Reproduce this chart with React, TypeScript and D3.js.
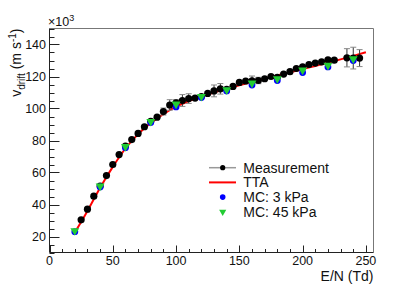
import React from 'react';
import * as d3 from 'd3';

// E/N (Td) and drift velocity (x10^3 m/s)
const measEN = [25, 30, 35, 40, 45, 50, 55, 60, 65, 70, 75, 80, 85, 90, 95, 100, 105, 110, 115, 120, 125, 130, 135, 140, 145, 150, 155, 160, 165, 170, 175, 180, 185, 190, 195, 200, 205, 210, 215, 220, 225, 235, 240, 245];
const measV = [30.4, 37.1, 45.2, 51.5, 58.1, 65, 71.2, 76.5, 80.6, 84.4, 88.6, 92, 94.6, 98.1, 102.2, 103.5, 105, 106.2, 106.5, 107.5, 109.4, 111, 112.3, 112, 113.8, 116.3, 117.2, 117.3, 117.5, 118.6, 120, 119.5, 121.5, 123, 125, 126, 127.5, 128.4, 129.2, 130.4, 130.2, 131.7, 131.5, 131.5];
const measErr = [0, 0, 0, 0, 0, 0, 0, 0, 0, 0, 0, 0, 0, 2.2, 3.3, 2, 3.7, 3, 0, 0, 0, 3.7, 3.3, 0, 0, 0, 0, 3, 2, 0, 0, 0, 0, 0, 0, 0, 0, 0, 0, 0, 0, 5.7, 6.8, 5.3];

const ttaEN = [20, 30, 40, 50, 60, 70, 80, 90, 100, 110, 120, 130, 140, 150, 160, 170, 180, 190, 200, 210, 220, 230, 240, 250];
const ttaV = [22.5, 36, 50.5, 63.5, 75, 84, 91, 96.5, 101.2, 104.6, 107.5, 110, 112.3, 114.5, 116.6, 118.7, 120.7, 122.7, 124.6, 126.6, 128.6, 130.7, 132.9, 135.2];

const mcEN = [20, 40, 60, 80, 100, 120, 140, 160, 180, 200, 220, 240];
const mc3kPa = [23, 51, 75.5, 91.2, 101, 106.8, 111, 114.7, 117.5, 122.5, 126, 130];
const mc45kPa = [23.6, 51.5, 76.2, 91.9, 102.7, 107.5, 111.7, 115.9, 118.6, 124, 127, 131];

const xMajor = [0, 50, 100, 150, 200, 250];
const yMajor = [20, 40, 60, 80, 100, 120, 140];

const legendItems = ['Measurement', 'TTA', 'MC: 3 kPa', 'MC: 45 kPa'];

const W = 415;
const H = 287;
const FONT = '"Liberation Sans", Arial, Helvetica, sans-serif';

export default function App() {
  const x = d3.scaleLinear().domain([0, 256]).range([49.5, 373.5]);
  const y = d3.scaleLinear().domain([10, 150]).range([252.5, 28.5]);
  const [x0, x1] = x.range();
  const [y0, y1] = y.range();

  const xMinor = d3.range(0, 257, 10).filter(v => v % 50 !== 0);
  const yMinor = d3.range(10, 151, 5).filter(v => v % 20 !== 0);

  const tta = d3.line<number>()
    .x((_, i) => x(ttaEN[i]))
    .y(d => y(d))
    .curve(d3.curveMonotoneX);

  const tri = d3.symbol().type(d3.symbolTriangle).size(34)();

  return (
    <svg width={W} height={H} style={{ position: 'absolute', left: 0, top: 0 }} fontFamily={FONT}>
      <rect width={W} height={H} fill="#fff" />

      {/* frame */}
      <line x1={x0} x2={x1} y1={y1} y2={y1} stroke="#777" />
      <line x1={x1} x2={x1} y1={y1} y2={y0} stroke="#777" />
      <line x1={x0} x2={x1} y1={y0} y2={y0} stroke="#222" />
      <line x1={x0} x2={x0} y1={y1} y2={y0} stroke="#222" />

      {/* x ticks */}
      {xMajor.map(v => (
        <g key={'xm' + v}>
          <line x1={Math.round(x(v)) + 0.5} x2={Math.round(x(v)) + 0.5} y1={y0} y2={y0 - 7} stroke="#222" />
          <text x={x(v)} y={265} fontSize={12.5} textAnchor="middle" fill="#111">{v}</text>
        </g>
      ))}
      {xMinor.map(v => (
        <line key={'xn' + v} x1={Math.round(x(v)) + 0.5} x2={Math.round(x(v)) + 0.5} y1={y0} y2={y0 - 3.5} stroke="#222" />
      ))}
      <text x={x1} y={281} fontSize={14} textAnchor="end" fill="#111">E/N (Td)</text>

      {/* y ticks */}
      {yMajor.map(v => (
        <g key={'ym' + v}>
          <line x1={x0} x2={x0 + 10} y1={Math.round(y(v)) + 0.5} y2={Math.round(y(v)) + 0.5} stroke="#222" />
          <text x={46} y={y(v) + 4.5} fontSize={12.5} textAnchor="end" fill="#111">{v}</text>
        </g>
      ))}
      {yMinor.map(v => (
        <line key={'yn' + v} x1={x0} x2={x0 + 5} y1={Math.round(y(v)) + 0.5} y2={Math.round(y(v)) + 0.5} stroke="#222" />
      ))}
      <text x={48} y={26} fontSize={12.5} fill="#111">
        ×10<tspan fontSize={9} dy={-5}>3</tspan>
      </text>
      <text transform={`translate(21,${y1}) rotate(-90)`} textAnchor="end" fontSize={14} fill="#111">
        v<tspan fontSize={10} dy={4}>drift</tspan><tspan dy={-4}> (m s</tspan><tspan fontSize={10} dy={-5}>-1</tspan><tspan dy={5}>)</tspan>
      </text>

      {/* TTA */}
      <path d={tta(ttaV) ?? ''} fill="none" stroke="#ff0000" strokeWidth={2} />

      {/* measurement error bars */}
      {measEN.map((e, i) => measErr[i] > 0 ? (
        <g key={'err' + e}>
          <line x1={x(e)} x2={x(e)} y1={y(measV[i] - measErr[i])} y2={y(measV[i] + measErr[i])} stroke="#333" />
          <line x1={x(e) - 3} x2={x(e) + 3} y1={y(measV[i] - measErr[i])} y2={y(measV[i] - measErr[i])} stroke="#888" />
          <line x1={x(e) - 3} x2={x(e) + 3} y1={y(measV[i] + measErr[i])} y2={y(measV[i] + measErr[i])} stroke="#888" />
        </g>
      ) : null)}
      {measEN.map((e, i) => (
        <circle key={'m' + e} cx={x(e)} cy={y(measV[i])} r={3.6} fill="#000" />
      ))}

      {/* MC */}
      {mcEN.map((e, i) => (
        <circle key={'b' + e} cx={x(e)} cy={y(mc3kPa[i])} r={3.4} fill="#0000ff" />
      ))}
      {mcEN.map((e, i) => (
        <path key={'g' + e} d={tri} transform={`translate(${x(e)},${y(mc45kPa[i])}) rotate(180)`} fill="#22cc33" />
      ))}

      {/* legend */}
      {legendItems.map((label, i) => {
        const cy = 167.7 + i * 14.7;
        return (
          <g key={label}>
            {i === 0 && (
              <>
                <line x1={209} x2={236} y1={cy} y2={cy} stroke="#999" strokeWidth={1.5} />
                <circle cx={222.7} cy={cy} r={2.6} fill="#000" />
              </>
            )}
            {i === 1 && <line x1={209} x2={236} y1={cy} y2={cy} stroke="#ff0000" strokeWidth={2} />}
            {i === 2 && <circle cx={222.7} cy={cy} r={2.8} fill="#0000ff" />}
            {i === 3 && <path d={d3.symbol().type(d3.symbolTriangle).size(22)() ?? ''} transform={`translate(222.7,${cy}) rotate(180)`} fill="#22cc33" />}
            <text x={243.3} y={cy + 5} fontSize={14} fill="#111">{label}</text>
          </g>
        );
      })}
    </svg>
  );
}
